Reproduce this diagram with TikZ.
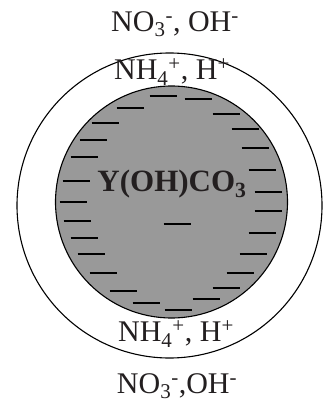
\documentclass[tikz,border=0pt]{standalone}
\usepackage{fontspec}
\setmainfont{Liberation Serif}
\usepackage{tikz}
\usetikzlibrary{positioning}

\definecolor{coregray}{HTML}{999999}
\definecolor{inkdark}{HTML}{231F20}

\begin{document}
\begin{tikzpicture}[x=1pt, y=-1pt]
        \tikzset{
            ionlabel/.style={text=inkdark, inner sep=0pt, font=\fontsize{30}{34}\selectfont},
            corelabel/.style={text=inkdark, inner sep=0pt, font=\fontsize{31}{34}\selectfont\bfseries},
            chargedash/.style={draw=black, line width=1.3pt}
        }
        \useasboundingbox (0,0) rectangle (322,406);

        % shell and core
        \draw [line width=1.1pt] (169.5,205.5) circle [radius=152.5];
        \draw [line width=1.1pt, fill=coregray] (171.5,202) circle [radius=116];

        % negative surface charges
        \foreach \x/\y in {163/96, 198/99, 130/108, 226/114, 105/123, 245/129,
                           93/140, 255/148, 84/157, 262/170, 76/181, 268/192,
                           73/202, 268/211, 77/221, 262/233, 84/238, 91/254,
                           253/254, 103/273, 240/273, 123/291, 226/288,
                           146/303, 206/299, 178/310, 177/224}
            \draw [chargedash] (\x-13.5,\y) -- (\x+13.5,\y);

        \node [corelabel] (core) at (172,184) {Y(OH)CO\textsubscript{3}};
        \node [ionlabel] (innertop) at (172,72) {NH\textsubscript{4}\textsuperscript{+}, H\textsuperscript{+}};
        \node [ionlabel] (outertop) at (175,24) {NO\textsubscript{3}\textsuperscript{-}, OH\textsuperscript{-}};
        \node [ionlabel] (innerbot) at (176,334) {NH\textsubscript{4}\textsuperscript{+}, H\textsuperscript{+}};
        \node [ionlabel] (outerbot) at (177,386) {NO\textsubscript{3}\textsuperscript{-},OH\textsuperscript{-}};
    \end{tikzpicture}
\end{document}
